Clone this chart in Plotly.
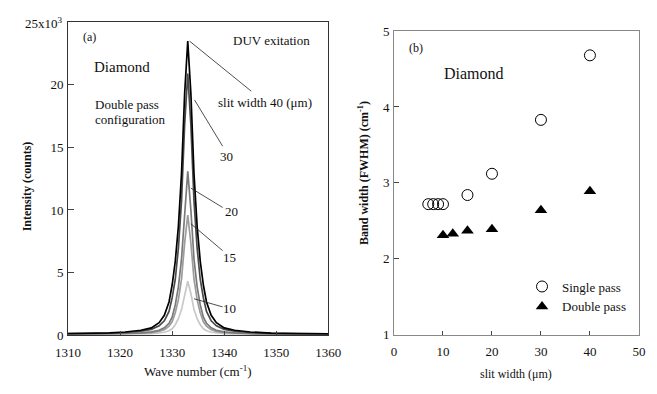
import plotly.graph_objects as go

# ---------------- data: panel (a) ----------------
wavenumber = [1310, 1315, 1318, 1321, 1324, 1326, 1327.5, 1328.5, 1329.4, 1330.0,
              1330.6, 1331.2, 1331.8, 1332.4, 1333.0, 1333.6, 1334.2, 1334.8, 1335.4,
              1336.0, 1336.6, 1337.5, 1338.5, 1340, 1342, 1345, 1349, 1354, 1360]
# intensities in units of 10^3 counts
int_40 = [0.12, 0.14, 0.17, 0.24, 0.38, 0.57, 0.99, 1.58, 2.64, 4.0, 5.9, 8.7, 12.9, 19.3, 23.5,
          19.3, 12.9, 8.7, 5.9, 4.0, 2.64, 1.58, 0.99, 0.57, 0.38, 0.24, 0.15, 0.12, 0.10]
int_30 = [0.11, 0.12, 0.14, 0.20, 0.30, 0.45, 0.74, 1.14, 1.89, 2.98, 4.44, 6.95, 10.7, 16.8, 20.9,
          16.8, 10.7, 6.95, 4.44, 2.98, 1.89, 1.14, 0.74, 0.45, 0.30, 0.20, 0.13, 0.11, 0.09]
int_20 = [0.08, 0.09, 0.10, 0.12, 0.17, 0.25, 0.38, 0.57, 0.94, 1.43, 2.41, 3.85, 6.08, 10.0, 13.1,
          10.0, 6.08, 3.85, 2.41, 1.43, 0.94, 0.57, 0.38, 0.25, 0.17, 0.12, 0.09, 0.08, 0.07]
int_15 = [0.07, 0.08, 0.09, 0.10, 0.14, 0.19, 0.29, 0.43, 0.70, 1.06, 1.78, 2.83, 4.47, 7.35, 9.6,
          7.35, 4.47, 2.83, 1.78, 1.06, 0.70, 0.43, 0.29, 0.19, 0.14, 0.10, 0.08, 0.07, 0.06]
int_10 = [0.06, 0.06, 0.07, 0.07, 0.09, 0.11, 0.16, 0.22, 0.34, 0.50, 0.82, 1.30, 2.03, 3.32, 4.3,
          3.32, 2.03, 1.30, 0.82, 0.50, 0.34, 0.22, 0.16, 0.11, 0.09, 0.07, 0.06, 0.06, 0.05]
spectra_labels = ["10", "15", "20", "30", "40"]
spectra_colors = ["#c8c8c8", "#9c9c9c", "#7a7a7a", "#4a4a4a", "#000000"]
a_xticks = [1310, 1320, 1330, 1340, 1350, 1360]
a_yticks = [0, 5, 10, 15, 20]

# ---------------- data: panel (b) ----------------
slit_single = [7, 8, 9, 10, 15, 20, 30, 40]
fwhm_single = [2.72, 2.72, 2.72, 2.72, 2.84, 3.12, 3.83, 4.68]
slit_double = [10, 12, 15, 20, 30, 40]
fwhm_double = [2.31, 2.33, 2.37, 2.39, 2.64, 2.89]
b_xticks = [0, 10, 20, 30, 40, 50]
b_yticks = [1, 2, 3, 4, 5]

FONT = "Liberation Serif, Times New Roman, serif"
W, H = 657, 394


def px(x):
    return x / W


def py(y):
    return 1 - y / H


fig = go.Figure()
for lab, col, ys in zip(spectra_labels, spectra_colors, [int_10, int_15, int_20, int_30, int_40]):
    fig.add_trace(go.Scatter(x=wavenumber, y=ys, mode="lines", name=lab,
                             line=dict(color=col, width=1.7), showlegend=False,
                             xaxis="x", yaxis="y"))

fig.add_trace(go.Scatter(x=slit_single, y=fwhm_single, mode="markers", name="Single pass",
                         marker=dict(symbol="circle-open", size=11, color="#000",
                                     line=dict(width=1, color="#000")),
                         xaxis="x2", yaxis="y2"))
fig.add_trace(go.Scatter(x=slit_double, y=fwhm_double, mode="markers", name="Double pass",
                         marker=dict(symbol="triangle-up", size=11, color="#000"),
                         xaxis="x2", yaxis="y2"))

axis_common = dict(showgrid=False, zeroline=False, ticks="inside", showline=True, mirror=True,
                   tickfont=dict(family=FONT, size=13, color="#111"))

fig.update_layout(
    width=W, height=H, margin=dict(l=0, r=0, t=0, b=0),
    paper_bgcolor="white", plot_bgcolor="white",
    font=dict(family=FONT, color="#111"),
    xaxis=dict(domain=[px(57.3), px(328.3)], range=[1310, 1360], tickvals=a_xticks,
               ticklen=4, linecolor="#333", linewidth=1, anchor="y", ticklabelstandoff=5,
               **axis_common),
    yaxis=dict(domain=[py(341), py(16)], range=[0, 25], tickvals=a_yticks,
               ticklen=6, linecolor="#333", linewidth=1, anchor="x", ticklabelstandoff=1,
               **axis_common),
    xaxis2=dict(domain=[px(396.7), px(651.7)], range=[0, 50], tickvals=b_xticks,
                ticklen=4, linecolor="#888", linewidth=1, anchor="y2", ticklabelstandoff=5,
                **axis_common),
    yaxis2=dict(domain=[py(340.7), py(25)], range=[1, 5], tickvals=b_yticks,
                ticklen=5, linecolor="#888", linewidth=1, anchor="x2", ticklabelstandoff=1,
                **axis_common),
    legend=dict(x=px(530), y=py(275), xanchor="left", yanchor="top",
                bgcolor="rgba(0,0,0,0)", font=dict(family=FONT, size=13, color="#111"),
                tracegroupgap=0),
)

# leader lines for panel (a) (data coordinates, intensity in 10^3 counts)
leaders = [
    (1333.35, 23.5, 1345.2, 19.5),
    (1334.3, 18.8, 1339.7, 15.1),
    (1333.6, 11.75, 1339.7, 10.2),
    (1333.6, 8.9, 1339.7, 6.75),
    (1334.2, 2.9, 1339.7, 2.25),
]
for x0, y0, x1, y1 in leaders:
    fig.add_shape(type="line", xref="x", yref="y", x0=x0, y0=y0, x1=x1, y1=y1,
                  line=dict(color="#222", width=0.8))

ann = []


def add_text(text, x, y, size=13, xref="x", yref="y", xanchor="center", yanchor="middle",
             angle=0, bold=False):
    t = f"<b>{text}</b>" if bold else text
    ann.append(dict(text=t, x=x, y=y, xref=xref, yref=yref, xanchor=xanchor, yanchor=yanchor,
                    showarrow=False, textangle=angle,
                    font=dict(family=FONT, size=size, color="#111")))


# panel (a) labels
add_text("slit width 40 (μm)", 1347.9, 18.6)
add_text("30", 1340.5, 14.3)
add_text("20", 1341.4, 9.87)
add_text("15", 1341.1, 6.2)
add_text("10", 1341.1, 2.13)
add_text("DUV exitation", 1349.0, 23.54)
add_text("(a)", 1314.2, 23.85, size=12)
add_text("Diamond", 1320.4, 21.4, size=15)
add_text("Double pass", 1314.8, 18.4, xanchor="left")
add_text("configuration", 1314.8, 17.25, xanchor="left")
add_text("25x10<sup>3</sup>", px(54), py(17), xref="paper", yref="paper", xanchor="right")
add_text("Wave number (cm<sup>-1</sup>)", px(192.5), py(378), xref="paper", yref="paper")
add_text("Intensity (counts)", px(15), py(186), xref="paper", yref="paper", angle=-90,
         size=12, bold=True)

# panel (b) labels
add_text("(b)", 4.57, 4.78, size=12, xref="x2", yref="y2")
add_text("Diamond", 16.3, 4.44, size=16, xref="x2", yref="y2")
add_text("slit width (μm)", px(523.8), py(381.7), xref="paper", yref="paper", size=12)
add_text("Band width (FWHM) (cm<sup>-1</sup>)", px(365), py(173), xref="paper", yref="paper",
         angle=-90, size=12, bold=True)

fig.update_layout(annotations=ann)
fig.write_html("out.html")
